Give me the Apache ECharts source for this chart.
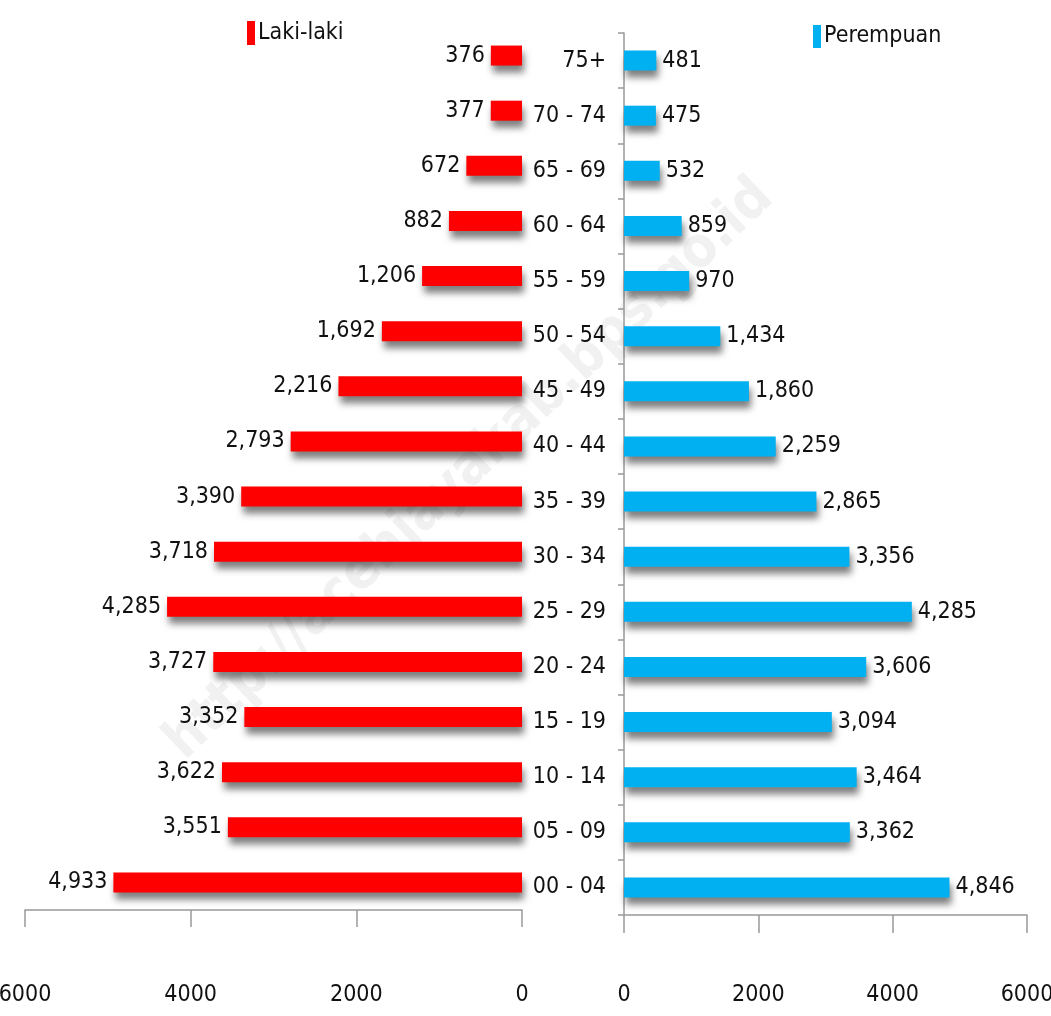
<!DOCTYPE html>
<html>
<head>
<meta charset="utf-8">
<script src="https://cdn.jsdelivr.net/npm/echarts@6/dist/echarts.min.js"></script>
<style>
  html, body { margin: 0; padding: 0; background: #fff; }
  #chart { width: 1051px; height: 1016px; }
</style>
</head>
<body>
<div id="chart"></div>
<script>
// age groups, bottom to top
const ageGroups = ['00 - 04', '05 - 09', '10 - 14', '15 - 19', '20 - 24', '25 - 29', '30 - 34', '35 - 39',
  '40 - 44', '45 - 49', '50 - 54', '55 - 59', '60 - 64', '65 - 69', '70 - 74', '75+']
const maleValues = [4933, 3551, 3622, 3352, 3727, 4285, 3718, 3390, 2793, 2216, 1692, 1206, 882, 672, 377, 376]
const femaleValues = [4846, 3362, 3464, 3094, 3606, 4285, 3356, 2865, 2259, 1860, 1434, 970, 859, 532, 475, 481]
const xTicks = { min: 0, max: 6000, interval: 2000 }

const FONT = "'Liberation Sans Narrow', 'DejaVu Sans Condensed', sans-serif"
const fmt = v => v.toLocaleString('en-US')

const chart = echarts.init(document.getElementById('chart'))

const barShadow = {
  shadowColor: 'rgba(0, 0, 0, 0.5)',
  shadowBlur: 7,
  shadowOffsetX: 2,
  shadowOffsetY: 7
}

chart.setOption({
  animation: false,
  textStyle: { fontFamily: FONT },
  graphic: [{
    type: 'text',
    x: 470,
    y: 470,
    rotation: 0.76,
    z: -10,
    silent: true,
    style: {
      text: 'http://acehjayakab.bps.go.id',
      font: "bold 56px " + FONT,
      fill: 'rgba(190, 190, 190, 0.22)',
      align: 'center',
      verticalAlign: 'middle'
    }
  }],
  legend: [
    {
      data: ['Laki-laki'],
      left: 242,
      top: 16,
      icon: 'rect',
      itemWidth: 8,
      itemHeight: 24,
      textStyle: { fontFamily: FONT, fontSize: 23, color: '#111', padding: [0, 0, 0, -2] }
    },
    {
      data: ['Perempuan'],
      left: 808,
      top: 20,
      icon: 'rect',
      itemWidth: 8,
      itemHeight: 23,
      textStyle: { fontFamily: FONT, fontSize: 23, color: '#111', padding: [0, 0, 0, -2] }
    }
  ],
  grid: [
    { left: 25, right: 529, top: 28, bottom: 106, outerBoundsMode: 'none' },
    { left: 624, right: 24, top: 33, bottom: 101, outerBoundsMode: 'none' }
  ],
  xAxis: [
    {
      gridIndex: 0,
      type: 'value',
      inverse: true,
      min: xTicks.min,
      max: xTicks.max,
      interval: xTicks.interval,
      axisLine: { show: true, lineStyle: { color: '#999', width: 1.5 } },
      axisTick: { show: true, length: 17, lineStyle: { color: '#999', width: 1.5 } },
      splitLine: { show: false },
      axisLabel: { margin: 74, fontFamily: FONT, fontSize: 23, color: '#111', formatter: v => String(v) }
    },
    {
      gridIndex: 1,
      type: 'value',
      min: xTicks.min,
      max: xTicks.max,
      interval: xTicks.interval,
      axisLine: { show: true, lineStyle: { color: '#999', width: 1.5 } },
      axisTick: { show: true, length: 18, lineStyle: { color: '#999', width: 1.5 } },
      splitLine: { show: false },
      axisLabel: { margin: 69, fontFamily: FONT, fontSize: 23, color: '#111', formatter: v => String(v) }
    }
  ],
  yAxis: [
    {
      gridIndex: 0,
      type: 'category',
      data: ageGroups,
      axisLine: { show: false },
      axisTick: { show: false },
      axisLabel: { show: false }
    },
    {
      gridIndex: 1,
      type: 'category',
      data: ageGroups,
      axisLine: { show: true, lineStyle: { color: '#999', width: 1.5 } },
      axisTick: { show: true, length: 6, lineStyle: { color: '#999', width: 1.5 } },
      axisLabel: { margin: 18, fontFamily: FONT, fontSize: 23, color: '#111' }
    }
  ],
  series: [
    {
      name: 'Laki-laki',
      type: 'bar',
      xAxisIndex: 0,
      yAxisIndex: 0,
      data: maleValues,
      barWidth: 20,
      itemStyle: Object.assign({ color: '#FF0000' }, barShadow),
      label: {
        show: true,
        position: 'left',
        distance: 6,
        formatter: p => fmt(p.value),
        fontFamily: FONT,
        fontSize: 23,
        color: '#111'
      }
    },
    {
      name: 'Perempuan',
      type: 'bar',
      xAxisIndex: 1,
      yAxisIndex: 1,
      data: femaleValues,
      barWidth: 20,
      itemStyle: Object.assign({ color: '#00B0F0' }, barShadow),
      label: {
        show: true,
        position: 'right',
        distance: 6,
        formatter: p => fmt(p.value),
        fontFamily: FONT,
        fontSize: 23,
        color: '#111'
      }
    }
  ]
})

window.addEventListener('resize', () => chart.resize())
</script>
</body>
</html>
